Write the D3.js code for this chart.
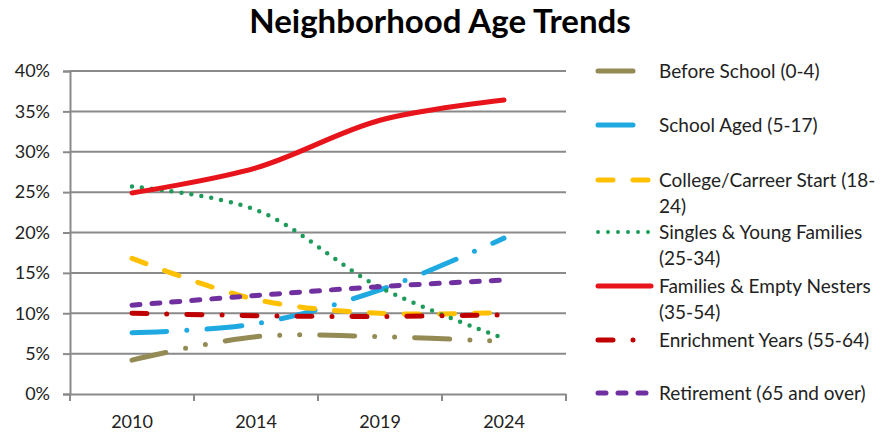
<!DOCTYPE html>
<html>
<head>
<meta charset="utf-8">
<script src="https://cdn.jsdelivr.net/npm/d3@7"></script>
<style>
  body { margin: 0; background: #fff; }
  svg { display: block; font-family: Lato, "Open Sans", sans-serif; }
</style>
</head>
<body>
<svg id="chart"></svg>
<script>
let years = ["2010", "2014", "2019", "2024"];
let yTicks = [0, 0.05, 0.10, 0.15, 0.20, 0.25, 0.30, 0.35, 0.40];

let beforeSchool = [0.042, 0.071, 0.071, 0.065];
let schoolAged = [0.076, 0.087, 0.129, 0.193];
let collegeStart = [0.168, 0.117, 0.100, 0.101];
let singlesYoung = [0.257, 0.228, 0.132, 0.069];
let familiesNesters = [0.249, 0.280, 0.339, 0.364];
let enrichment = [0.100, 0.097, 0.096, 0.098];
let retirement = [0.110, 0.122, 0.133, 0.141];

let seriesNames = [
    ["Before School (0-4)"],
    ["School Aged (5-17)"],
    ["College/Carreer Start (18-", "24)"],
    ["Singles & Young Families", "(25-34)"],
    ["Families & Empty Nesters", "(35-54)"],
    ["Enrichment Years (55-64)"],
    ["Retirement (65 and over)"]
];
let seriesValues = [beforeSchool, schoolAged, collegeStart, singlesYoung, familiesNesters, enrichment, retirement];
let seriesColors = ["#948a54", "#1fa9e1", "#ffc000", "#1e9b5a", "#e8141b", "#c00000", "#7030a0"];
let seriesDash = ["35 20 0 20 0 20", "35 20 0 20", "15 20", "0 10", null, "15 20 0 20", "8 12"];
let legendY = [71, 125, 180, 232, 286, 340, 393];

let width = 885;
let height = 434;
let plotLeft = 70, plotRight = 566, plotTop = 71, plotBottom = 394;

let svg = d3.select("#chart").attr("width", width).attr("height", height);

let xScale = d3.scaleBand().domain(years).range([plotLeft, plotRight]);
let yScale = d3.scaleLinear().domain([0, 0.40]).range([plotBottom, plotTop]);

// title
svg.append("text")
    .attr("x", 440)
    .attr("y", 33)
    .attr("text-anchor", "middle")
    .attr("font-size", 33)
    .attr("font-weight", "bold")
    .attr("fill", "#000")
    .text("Neighborhood Age Trends");

// gridlines
svg.append("g")
    .selectAll("line")
    .data(yTicks.slice(1))
    .enter()
    .append("line")
    .attr("x1", plotLeft)
    .attr("x2", plotRight)
    .attr("y1", d => yScale(d))
    .attr("y2", d => yScale(d))
    .attr("stroke", "#8a8a8a")
    .attr("stroke-width", 2);

// y axis
let yAxis = d3.axisLeft(yScale)
    .tickValues(yTicks)
    .tickFormat(d3.format(".0%"))
    .tickSize(7)
    .tickPadding(13);

let yG = svg.append("g")
    .attr("transform", `translate(${plotLeft}, 0)`)
    .call(yAxis);
yG.select(".domain").attr("stroke", "#8a8a8a").attr("stroke-width", 2);
yG.selectAll(".tick line").attr("stroke", "#8a8a8a").attr("stroke-width", 2);
yG.selectAll(".tick text").attr("font-size", 18).attr("fill", "#222").attr("font-family", "Lato, sans-serif");

// x axis
let xAxis = d3.axisBottom(xScale).tickSize(0).tickPadding(21);
let xG = svg.append("g")
    .attr("transform", `translate(0, ${plotBottom})`)
    .call(xAxis);
xG.select(".domain").attr("stroke", "#8a8a8a").attr("stroke-width", 2);
xG.selectAll(".tick text").attr("font-size", 18).attr("fill", "#222").attr("font-family", "Lato, sans-serif");

// category boundary ticks
let bounds = years.map(d => xScale(d)).concat([xScale(years[years.length - 1]) + xScale.bandwidth()]);
svg.append("g")
    .selectAll("line")
    .data(bounds)
    .enter()
    .append("line")
    .attr("x1", d => d)
    .attr("x2", d => d)
    .attr("y1", plotBottom)
    .attr("y2", plotBottom + 7)
    .attr("stroke", "#8a8a8a")
    .attr("stroke-width", 2);

// lines
let line = d3.line()
    .x((d, i) => xScale(years[i]) + xScale.bandwidth() / 2)
    .y(d => yScale(d))
    .curve(d3.curveCatmullRom.alpha(0.5));

let order = [0, 1, 2, 3, 4, 5, 6];
svg.append("g")
    .selectAll("path")
    .data(order)
    .enter()
    .append("path")
    .attr("d", i => line(seriesValues[i]))
    .attr("fill", "none")
    .attr("stroke", i => seriesColors[i])
    .attr("stroke-width", i => i === 3 ? 4.5 : 5)
    .attr("stroke-linecap", "round")
    .attr("stroke-dasharray", i => seriesDash[i]);

// legend
let legend = svg.append("g");
seriesNames.forEach((names, i) => {
    let y = legendY[i];
    legend.append("line")
        .attr("x1", 598)
        .attr("x2", 651)
        .attr("y1", y)
        .attr("y2", y)
        .attr("stroke", seriesColors[i])
        .attr("stroke-width", i === 3 ? 4 : 5)
        .attr("stroke-linecap", "round")
        .attr("stroke-dasharray", seriesDash[i]);
    names.forEach((t, j) => {
        legend.append("text")
            .attr("x", 659)
            .attr("y", y + 7 + j * 26)
            .attr("font-size", 19)
            .attr("fill", "#222")
            .text(t);
    });
});
</script>
</body>
</html>
